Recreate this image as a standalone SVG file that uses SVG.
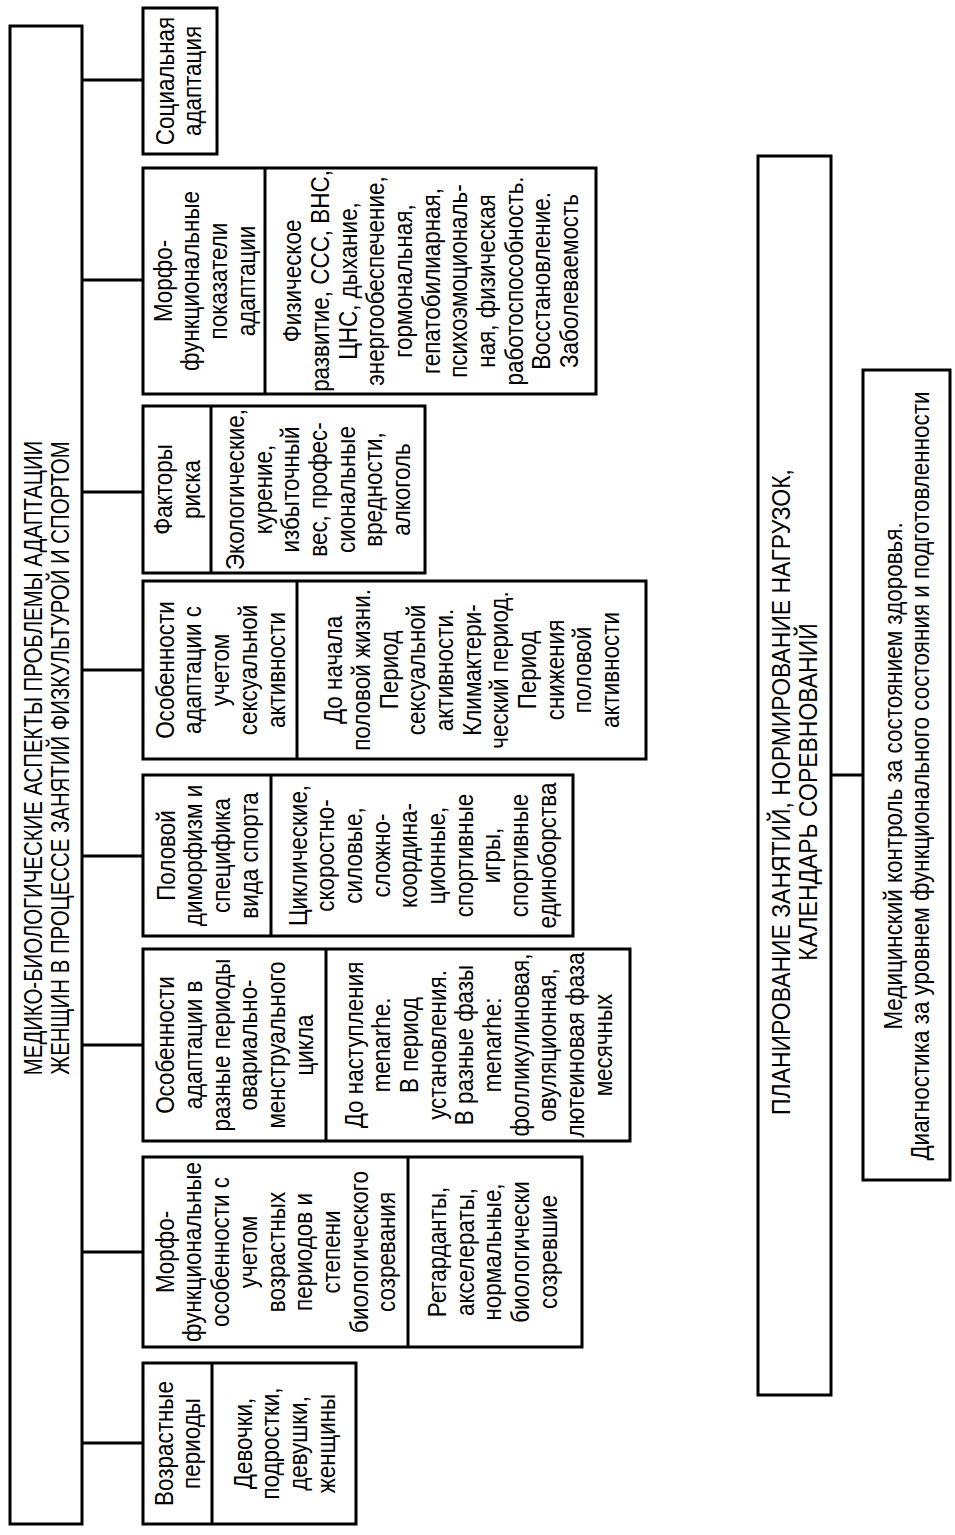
<svg xmlns="http://www.w3.org/2000/svg" width="955" height="1535" viewBox="0 0 955 1535">
<style>
.b{fill:#fff;stroke:#000;stroke-width:3}
.d{stroke:#000;stroke-width:3}
.c{stroke:#000;stroke-width:3;fill:none}
.t{font-family:"Liberation Sans",Arial,sans-serif;font-size:25.5px;text-anchor:middle;fill:#000}
</style>
<rect width="955" height="1535" fill="#fff"/>
<g id="connectors">
<path class="c" d="M82 80H143M82 280H143M82 492H143M82 670H143M82 856H143M82 1045H143M82 1252H143M82 1443H143M831 775H863"/>
</g>
<g id="main">
<rect class="b" x="10" y="26" width="72" height="1498"/>
<text class="t" transform="translate(41.7,758) rotate(-90) scale(0.8,1)"><tspan x="0" y="0">МЕДИКО-БИОЛОГИЧЕСКИЕ АСПЕКТЫ ПРОБЛЕМЫ АДАПТАЦИИ</tspan><tspan x="0" dy="27.6">ЖЕНЩИН В ПРОЦЕССЕ ЗАНЯТИЙ ФИЗКУЛЬТУРОЙ И СПОРТОМ</tspan></text>
</g>
<g id="social">
<rect class="b" x="143" y="8" width="74" height="146"/>
<text class="t" transform="translate(173.5,81) rotate(-90) scale(0.88,1)"><tspan x="0" y="0">Социальная</tspan><tspan x="0" dy="27.7">адаптация</tspan></text>
</g>
<g id="morpho-indicators">
<rect class="b" x="143" y="168" width="453" height="226"/>
<line class="d" x1="265" y1="168" x2="265" y2="394"/>
<text class="t" transform="translate(171.6,281) rotate(-90) scale(0.88,1)"><tspan x="0" y="0">Морфо-</tspan><tspan x="0" dy="27.7">функциональные</tspan><tspan x="0" dy="27.7">показатели</tspan><tspan x="0" dy="27.7">адаптации</tspan></text>
<text class="t" transform="translate(301.2,281) rotate(-90) scale(0.88,1)"><tspan x="0" y="0">Физическое</tspan><tspan x="0" dy="27.7">развитие, ССС, ВНС,</tspan><tspan x="0" dy="27.7">ЦНС, дыхание,</tspan><tspan x="0" dy="27.7">энергообеспечение,</tspan><tspan x="0" dy="27.7">гормональная,</tspan><tspan x="0" dy="27.7">гепатобилиарная,</tspan><tspan x="0" dy="27.7">психоэмоциональ-</tspan><tspan x="0" dy="27.7">ная, физическая</tspan><tspan x="0" dy="27.7">работоспособность.</tspan><tspan x="0" dy="27.7">Восстановление.</tspan><tspan x="0" dy="27.7">Заболеваемость</tspan></text>
</g>
<g id="risk">
<rect class="b" x="143" y="406" width="282" height="167"/>
<line class="d" x1="211" y1="406" x2="211" y2="573"/>
<text class="t" transform="translate(172.3,489.5) rotate(-90) scale(0.88,1)"><tspan x="0" y="0">Факторы</tspan><tspan x="0" dy="27.7">риска</tspan></text>
<text class="t" transform="translate(244,489.5) rotate(-90) scale(0.88,1)"><tspan x="0" y="0">Экологические,</tspan><tspan x="0" dy="27.7">курение,</tspan><tspan x="0" dy="27.7">избыточный</tspan><tspan x="0" dy="27.7">вес, профес-</tspan><tspan x="0" dy="27.7">сиональные</tspan><tspan x="0" dy="27.7">вредности,</tspan><tspan x="0" dy="27.7">алкоголь</tspan></text>
</g>
<g id="sexual">
<rect class="b" x="143" y="581" width="503" height="178"/>
<line class="d" x1="297" y1="581" x2="297" y2="759"/>
<text class="t" transform="translate(173.8,670) rotate(-90) scale(0.88,1)"><tspan x="0" y="0">Особенности</tspan><tspan x="0" dy="27.7">адаптации с</tspan><tspan x="0" dy="27.7">учетом</tspan><tspan x="0" dy="27.7">сексуальной</tspan><tspan x="0" dy="27.7">активности</tspan></text>
<text class="t" transform="translate(342.2,670) rotate(-90) scale(0.88,1)"><tspan x="0" y="0">До начала</tspan><tspan x="0" dy="27.7">половой жизни.</tspan><tspan x="0" dy="27.7">Период</tspan><tspan x="0" dy="27.7">сексуальной</tspan><tspan x="0" dy="27.7">активности.</tspan><tspan x="0" dy="27.7">Климактери-</tspan><tspan x="0" dy="27.7">ческий период.</tspan><tspan x="0" dy="27.7">Период</tspan><tspan x="0" dy="27.7">снижения</tspan><tspan x="0" dy="27.7">половой</tspan><tspan x="0" dy="27.7">активности</tspan></text>
</g>
<g id="dimorphism">
<rect class="b" x="143" y="775" width="430" height="161"/>
<line class="d" x1="271" y1="775" x2="271" y2="936"/>
<text class="t" transform="translate(174.6,855.5) rotate(-90) scale(0.88,1)"><tspan x="0" y="0">Половой</tspan><tspan x="0" dy="27.7">диморфизм и</tspan><tspan x="0" dy="27.7">специфика</tspan><tspan x="0" dy="27.7">вида спорта</tspan></text>
<text class="t" transform="translate(306.5,855.5) rotate(-90) scale(0.88,1)"><tspan x="0" y="0">Циклические,</tspan><tspan x="0" dy="27.7">скоростно-</tspan><tspan x="0" dy="27.7">силовые,</tspan><tspan x="0" dy="27.7">сложно-</tspan><tspan x="0" dy="27.7">координа-</tspan><tspan x="0" dy="27.7">ционные,</tspan><tspan x="0" dy="27.7">спортивные</tspan><tspan x="0" dy="27.7">игры,</tspan><tspan x="0" dy="27.7">спортивные</tspan><tspan x="0" dy="27.7">единоборства</tspan></text>
</g>
<g id="ovarian">
<rect class="b" x="143" y="949" width="487" height="192"/>
<line class="d" x1="326" y1="949" x2="326" y2="1141"/>
<text class="t" transform="translate(174.4,1045) rotate(-90) scale(0.88,1)"><tspan x="0" y="0">Особенности</tspan><tspan x="0" dy="27.7">адаптации в</tspan><tspan x="0" dy="27.7">разные периоды</tspan><tspan x="0" dy="27.7">овариально-</tspan><tspan x="0" dy="27.7">менструального</tspan><tspan x="0" dy="27.7">цикла</tspan></text>
<text class="t" transform="translate(362.5,1045) rotate(-90) scale(0.88,1)"><tspan x="0" y="0">До наступления</tspan><tspan x="0" dy="27.7">menarhe.</tspan><tspan x="0" dy="27.7">В период</tspan><tspan x="0" dy="27.7">установления.</tspan><tspan x="0" dy="27.7">В разные фазы</tspan><tspan x="0" dy="27.7">menarhe:</tspan><tspan x="0" dy="27.7">фолликулиновая,</tspan><tspan x="0" dy="27.7">овуляционная,</tspan><tspan x="0" dy="27.7">лютеиновая фаза</tspan><tspan x="0" dy="27.7">месячных</tspan></text>
</g>
<g id="morpho-features">
<rect class="b" x="143" y="1157" width="439" height="190"/>
<line class="d" x1="408" y1="1157" x2="408" y2="1347"/>
<text class="t" transform="translate(173.8,1252) rotate(-90) scale(0.88,1)"><tspan x="0" y="0">Морфо-</tspan><tspan x="0" dy="27.7">функциональные</tspan><tspan x="0" dy="27.7">особенности с</tspan><tspan x="0" dy="27.7">учетом</tspan><tspan x="0" dy="27.7">возрастных</tspan><tspan x="0" dy="27.7">периодов и</tspan><tspan x="0" dy="27.7">степени</tspan><tspan x="0" dy="27.7">биологического</tspan><tspan x="0" dy="27.7">созревания</tspan></text>
<text class="t" transform="translate(446,1252) rotate(-90) scale(0.88,1)"><tspan x="0" y="0">Ретарданты,</tspan><tspan x="0" dy="27.7">акселераты,</tspan><tspan x="0" dy="27.7">нормальные,</tspan><tspan x="0" dy="27.7">биологически</tspan><tspan x="0" dy="27.7">созревшие</tspan></text>
</g>
<g id="age">
<rect class="b" x="143" y="1363" width="213" height="161"/>
<line class="d" x1="212" y1="1363" x2="212" y2="1524"/>
<text class="t" transform="translate(172.8,1443.5) rotate(-90) scale(0.88,1)"><tspan x="0" y="0">Возрастные</tspan><tspan x="0" dy="27.7">периоды</tspan></text>
<text class="t" transform="translate(251.6,1443.5) rotate(-90) scale(0.88,1)"><tspan x="0" y="0">Девочки,</tspan><tspan x="0" dy="27.7">подростки,</tspan><tspan x="0" dy="27.7">девушки,</tspan><tspan x="0" dy="27.7">женщины</tspan></text>
</g>
<g id="planning">
<rect class="b" x="758" y="156" width="73" height="1239"/>
<text class="t" transform="translate(789.8,792) rotate(-90) scale(0.9,1)"><tspan x="0" y="0">ПЛАНИРОВАНИЕ ЗАНЯТИЙ, НОРМИРОВАНИЕ НАГРУЗОК,</tspan><tspan x="0" dy="27.6">КАЛЕНДАРЬ СОРЕВНОВАНИЙ</tspan></text>
</g>
<g id="medical">
<rect class="b" x="863" y="370" width="87" height="810"/>
<text class="t" transform="translate(901.8,776) rotate(-90) scale(0.88,1)"><tspan x="0" y="0">Медицинский контроль за состоянием здоровья.</tspan><tspan x="0" dy="27.7">Диагностика за уровнем функционального состояния и подготовленности</tspan></text>
</g>
</svg>
